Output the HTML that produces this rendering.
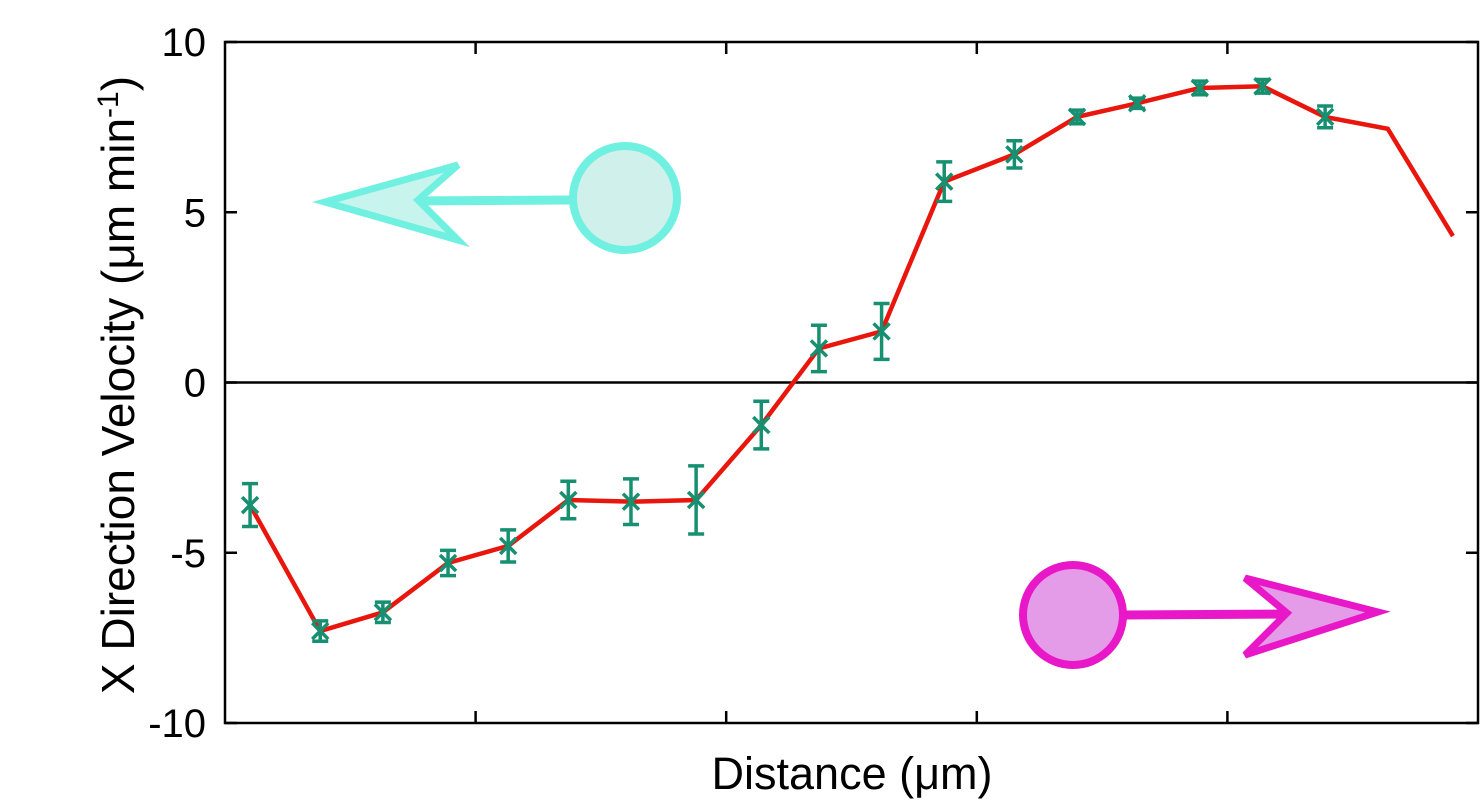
<!DOCTYPE html>
<html><head><meta charset="utf-8"><style>
body{margin:0;background:#fff;}
svg{display:block;font-family:"Liberation Sans",sans-serif;}
</style></head><body>
<svg id="chart" width="1481" height="801" viewBox="0 0 1481 801">
<g>
<line x1="570" y1="200" x2="405" y2="201" stroke="#70f0e0" stroke-width="9"/>
<polygon points="325,202 458,165 418,200 458,240" fill="#c8f4ee" stroke="#70f0e0" stroke-width="7" stroke-linejoin="miter"/>
<circle cx="625" cy="198" r="52" fill="#d0f0ec" stroke="#70f0e0" stroke-width="8"/>
</g>
<g>
<line x1="1125" y1="615" x2="1290" y2="614" stroke="#e817c8" stroke-width="9"/>
<polygon points="1378,612 1245,578 1287,613 1245,655" fill="#e49be8" stroke="#e817c8" stroke-width="7"/>
<circle cx="1073" cy="615" r="50" fill="#e49be8" stroke="#e817c8" stroke-width="8"/>
</g>
<g id="axes"></g>
<g id="marks"></g>
<text x="852" y="789" font-size="45" text-anchor="middle">Distance (μm)</text>
<text transform="translate(134,385) rotate(-90)" font-size="46" text-anchor="middle">X Direction Velocity (μm min<tspan dy="-16" font-size="30">-1</tspan><tspan dy="16">)</tspan></text>
</svg>
<script>
const xs=[0.1,0.38,0.63,0.89,1.13,1.37,1.62,1.88,2.14,2.37,2.62,2.87,3.15,3.4,3.64,3.89,4.14,4.39,4.64,4.9];
const ys=[-3.6,-7.3,-6.75,-5.3,-4.8,-3.45,-3.5,-3.45,-1.25,1.0,1.5,5.9,6.7,7.8,8.2,8.65,8.7,7.8,7.45,4.3];
const errs=[0.63,0.3,0.3,0.37,0.47,0.55,0.67,1.0,0.7,0.68,0.82,0.58,0.4,0.2,0.15,0.2,0.2,0.32,0,0];
const yTicks=[-10,-5,0,5,10];
const xTicks=[1,2,3,4];
const L=225,R=1478,T=42,B=723;
const X=v=>L+v*(R-L)/5;
const Y=v=>B-(v+10)*(B-T)/20;
const NS="http://www.w3.org/2000/svg";
function mk(p,t,a){const e=document.createElementNS(NS,t);for(const k in a)e.setAttribute(k,a[k]);p.appendChild(e);return e;}
const ax=document.getElementById('axes'),mg=document.getElementById('marks');
const frame=mk(ax,'rect',{x:L,y:T,width:R-L,height:B-T,fill:'none',stroke:'#000','stroke-width':2.5});


const zl=mk(ax,'line',{x1:L,x2:R,y1:Y(0),y2:Y(0),stroke:'#000','stroke-width':2.5});


yTicks.forEach(t=>{
 const tk=mk(ax,'line',{x1:L,x2:L+12,y1:Y(t),y2:Y(t),stroke:'#000','stroke-width':2.5});
 
 
 const tk2=mk(ax,'line',{x1:R-12,x2:R,y1:Y(t),y2:Y(t),stroke:'#000','stroke-width':2.5});
 
 
 const lb=mk(ax,'text',{x:L-19,y:Y(t)+14,'font-size':40,'text-anchor':'end'});
 lb.textContent=t;
 
 
});
xTicks.forEach(t=>{
 const tk=mk(ax,'line',{x1:X(t),x2:X(t),y1:B,y2:B-12,stroke:'#000','stroke-width':2.5});
 
 
 const tk2=mk(ax,'line',{x1:X(t),x2:X(t),y1:T,y2:T+12,stroke:'#000','stroke-width':2.5});
 
 
});
const line=mk(mg,'polyline',{points:xs.map((x,i)=>X(x)+','+Y(ys[i])).join(' '),fill:'none',stroke:'#e8160c','stroke-width':4.5});


const C='#169070';
xs.forEach((x,i)=>{
 const cx=X(x),cy=Y(ys[i]);
 const g=mk(mg,'g',{stroke:C,'stroke-width':3.5});
 
 
 if(errs[i]>0){
  const y1=Y(ys[i]+errs[i]),y2=Y(ys[i]-errs[i]);
  mk(g,'line',{x1:cx,x2:cx,y1:y1,y2:y2});
  mk(g,'line',{x1:cx-8,x2:cx+8,y1:y1,y2:y1});
  mk(g,'line',{x1:cx-8,x2:cx+8,y1:y2,y2:y2});
  mk(g,'line',{x1:cx-8,x2:cx+8,y1:cy-8,y2:cy+8});
  mk(g,'line',{x1:cx-8,x2:cx+8,y1:cy+8,y2:cy-8});
 }
});
</script>
</body></html>
